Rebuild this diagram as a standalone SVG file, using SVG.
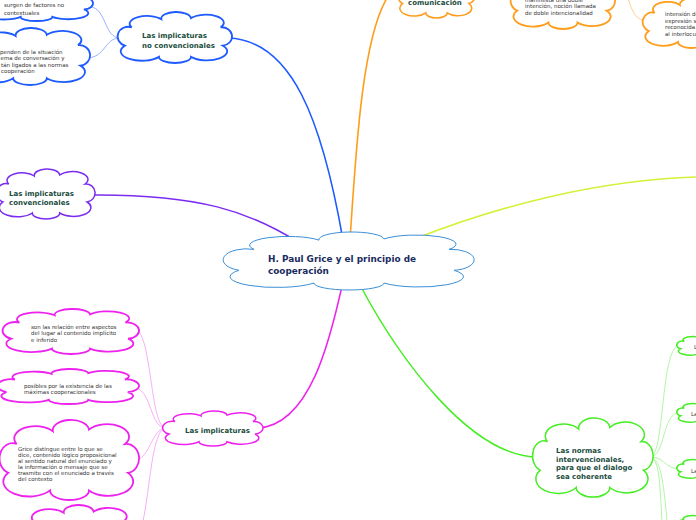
<svg xmlns="http://www.w3.org/2000/svg" xmlns:xlink="http://www.w3.org/1999/xlink" width="696" height="520" viewBox="0 0 696 520">
<style>
.cl{fill:#fff}
.t{font-family:"DejaVu Sans",Verdana,sans-serif;font-size:5.5px;fill:#333}
.h{font-family:"DejaVu Sans",Verdana,sans-serif;font-size:7px;font-weight:bold;fill:#1b4d3e}
.c{fill:none}
</style>
<defs>
<path id="cloud" vector-effect="non-scaling-stroke" d="M 6,66 A 9 18.3 0 0 1 12,30 A 15.3 15.3 0 0 1 38,14 A 13 13 0 0 1 64,12 A 15.8 15.8 0 0 1 90,30 A 9 18 0 0 1 92,66 A 17.8 17.8 0 0 1 64,88 A 14 12 0 0 1 36,88 A 18.6 18.6 0 0 1 6,66 Z"/>
</defs>
<g id="connectors" class="c">
<path d="M 343,240 C 322,120 292,40 228,38" stroke="#1e5bff" stroke-width="1.6"/>
<path d="M 120,38 C 104,38 106,7 90,7" stroke="#8aa8ff" stroke-width="0.9"/>
<path d="M 120,38 C 104,38 106,58 86,58" stroke="#8aa8ff" stroke-width="0.9"/>
<path d="M 90,195 C 200,194 250,212 298,242" stroke="#7b2cf0" stroke-width="1.5"/>
<path d="M 350,240 C 356,150 362,40 387,-2" stroke="#ff9d1a" stroke-width="1.6"/>
<path d="M 628,-2 C 632,12 636,20 646,21" stroke="#ffc98a" stroke-width="0.9"/>
<path d="M 412,240 C 500,205 600,180 697,177" stroke="#d6f03a" stroke-width="1.6"/>
<path d="M 342,286 C 330,340 310,425 258,428" stroke="#ee22ee" stroke-width="1.5"/>
<path d="M 166,428 C 150,428 152,335 136,330" stroke="#f5a6f5" stroke-width="0.9"/>
<path d="M 166,428 C 150,428 152,392 136,388" stroke="#f5a6f5" stroke-width="0.9"/>
<path d="M 166,428 C 152,428 150,458 136,460" stroke="#f5a6f5" stroke-width="0.9"/>
<path d="M 166,428 C 152,428 150,490 143,521" stroke="#f5a6f5" stroke-width="0.9"/>
<path d="M 360,285 C 400,360 470,455 536,457" stroke="#44ee22" stroke-width="1.5"/>
<path d="M 650,457 C 665,457 660,350 679,345" stroke="#a8f59a" stroke-width="0.9"/>
<path d="M 650,457 C 665,457 662,415 679,412" stroke="#a8f59a" stroke-width="0.9"/>
<path d="M 650,457 C 665,457 664,468 679,469" stroke="#a8f59a" stroke-width="0.9"/>
<path d="M 650,457 C 662,458 664,490 667,521" stroke="#a8f59a" stroke-width="0.9"/>
<path d="M 650,457 C 660,458 660,490 662,521" stroke="#a8f59a" stroke-width="0.9"/>
</g>
<g id="central">
<use xlink:href="#cloud" class="cl" stroke="#3b8fd6" stroke-width="1" transform="translate(224,232) scale(2.5,0.58)"/>
<text x="268" y="262" font-family="DejaVu Sans,Verdana,sans-serif" font-size="8.9" font-weight="bold" fill="#1a2b5e">H. Paul Grice y el principio de</text>
<text x="268" y="274" font-family="DejaVu Sans,Verdana,sans-serif" font-size="8.9" font-weight="bold" fill="#1a2b5e">cooperación</text>
</g>
<g id="no-convencionales">
<use xlink:href="#cloud" class="cl" stroke="#1e5bff" stroke-width="1.8" transform="translate(118,12) scale(1.14,0.51)"/>
<text class="h" x="142" y="38">Las implicaturas</text>
<text class="h" x="142" y="48">no convencionales</text>
</g>
<g id="surgen">
<use xlink:href="#cloud" class="cl" stroke="#1e5bff" stroke-width="1.8" transform="translate(-20,-13) scale(1.13,0.34)"/>
<text class="t" x="4" y="7">surgen de factores no</text>
<text class="t" x="4" y="14.5">contextuales</text>
</g>
<g id="dependen">
<use xlink:href="#cloud" class="cl" stroke="#1e5bff" stroke-width="1.8" transform="translate(-30,28) scale(1.2,0.57)"/>
<text class="t" x="0" y="53.5">penden de la situación</text>
<text class="t" x="0.5" y="60">ema de conversación y</text>
<text class="t" x="1" y="66.5">tán ligados a las normas</text>
<text class="t" x="1" y="72.5"> cooperación</text>
</g>
<g id="convencionales">
<use xlink:href="#cloud" class="cl" stroke="#7b2cf0" stroke-width="1.5" transform="translate(-3,169) scale(0.98,0.5)"/>
<text class="h" x="9" y="196">Las implicaturas</text>
<text class="h" x="9" y="205">convencionales</text>
</g>
<g id="comunicacion">
<use xlink:href="#cloud" class="cl" stroke="#ff9d1a" stroke-width="1.5" transform="translate(398,-25) scale(0.77,0.43)"/>
<text class="h" x="408" y="5">comunicación</text>
</g>
<g id="doble-intencion">
<use xlink:href="#cloud" class="cl" stroke="#ff9d1a" stroke-width="1.8" transform="translate(511,-25) scale(1.04,0.54)"/>
<text class="t" x="525" y="1.5">manifiesta una doble</text>
<text class="t" x="525" y="8">intención, noción llamada</text>
<text class="t" x="525" y="14.5">de doble intencionalidad</text>
</g>
<g id="intension">
<use xlink:href="#cloud" class="cl" stroke="#ff9d1a" stroke-width="1.8" transform="translate(643,-2) scale(0.97,0.5)"/>
<text class="t" x="665" y="16">intensión de</text>
<text class="t" x="665" y="22.5">expresión s</text>
<text class="t" x="665" y="29">reconocida</text>
<text class="t" x="665" y="35.5">al interlocu</text>
</g>
<g id="implicaturas">
<use xlink:href="#cloud" class="cl" stroke="#ee22ee" stroke-width="1.5" transform="translate(163,411) scale(1.0,0.35)"/>
<text class="h" x="185" y="433">Las implicaturas</text>
</g>
<g id="relacion">
<use xlink:href="#cloud" class="cl" stroke="#ee22ee" stroke-width="1.8" transform="translate(3,309) scale(1.36,0.45)"/>
<text class="t" x="31" y="328.5">son las relación entre aspectos</text>
<text class="t" x="31" y="335">del lugar al contenido implícito</text>
<text class="t" x="31" y="341.5">e inferido</text>
</g>
<g id="posibles">
<use xlink:href="#cloud" class="cl" stroke="#ee22ee" stroke-width="1.8" transform="translate(-2,369) scale(1.41,0.35)"/>
<text class="t" x="24" y="388">posibles por la existencia de las</text>
<text class="t" x="24" y="394">máximas cooperacionales</text>
</g>
<g id="grice-distingue">
<use xlink:href="#cloud" class="cl" stroke="#ee22ee" stroke-width="1.8" transform="translate(0,420) scale(1.39,0.8)"/>
<text class="t" x="18" y="451">Grice distingue entre lo que se</text>
<text class="t" x="18" y="457">dice, contenido lógico proposicional</text>
<text class="t" x="18" y="463">al sentido natural del enunciado y</text>
<text class="t" x="18" y="469">la información o mensaje  que se</text>
<text class="t" x="18" y="475">trasmite con el enunciado a través</text>
<text class="t" x="18" y="481">del contexto</text>
</g>
<g id="magenta-bottom">
<use xlink:href="#cloud" class="cl" stroke="#ee22ee" stroke-width="1.8" transform="translate(20,505) scale(1.15,0.55)"/>
</g>
<g id="normas">
<use xlink:href="#cloud" class="cl" stroke="#44ee22" stroke-width="1.5" transform="translate(533,418) scale(1.2,0.79)"/>
<text class="h" x="556" y="453">Las normas</text>
<text class="h" x="556" y="461.5">intervencionales,</text>
<text class="h" x="556" y="470">para que el dialogo</text>
<text class="h" x="556" y="478.5">sea coherente</text>
</g>
<g id="norma-1">
<use xlink:href="#cloud" class="cl" stroke="#44ee22" stroke-width="1.6" transform="translate(677,335) scale(0.6,0.21)"/>
<text class="t" x="694" y="349">L</text>
</g>
<g id="norma-2">
<use xlink:href="#cloud" class="cl" stroke="#44ee22" stroke-width="1.6" transform="translate(677,402) scale(0.6,0.21)"/>
<text class="t" x="691" y="416">La</text>
</g>
<g id="norma-3">
<use xlink:href="#cloud" class="cl" stroke="#44ee22" stroke-width="1.6" transform="translate(677,458) scale(0.6,0.21)"/>
<text class="t" x="691" y="473">La</text>
</g>
<g id="norma-4">
<use xlink:href="#cloud" class="cl" stroke="#44ee22" stroke-width="1.6" transform="translate(677,514) scale(0.6,0.21)"/>
</g>
</svg>
